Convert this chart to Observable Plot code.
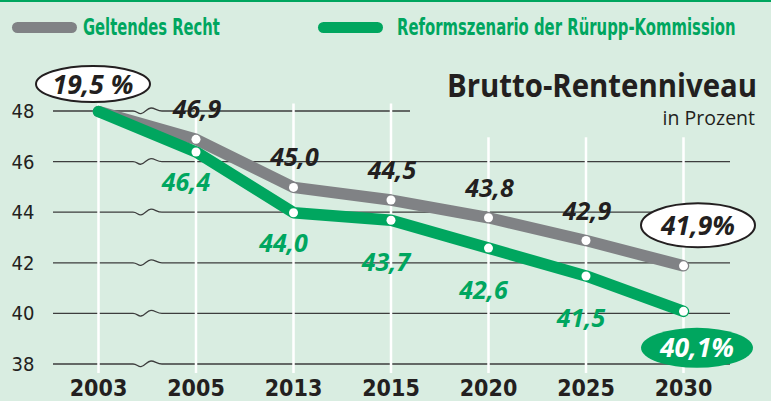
<!DOCTYPE html>
<html><head><meta charset="utf-8">
<script src="https://cdn.jsdelivr.net/npm/d3@7"></script>
<script src="https://cdn.jsdelivr.net/npm/@observablehq/plot@0.6"></script>
<style>
html,body{margin:0;padding:0;background:#d9ede1;width:771px;height:401px;overflow:hidden}
svg{display:block}
</style></head><body>
<svg id="legend" width="771" height="50"></svg>
<div id="chart"></div>
<script>
// ---- data ----
const years = ["2003", "2005", "2013", "2015", "2020", "2025", "2030"];
const geltend = [48.0, 46.9, 45.0, 44.5, 43.8, 42.9, 41.9];
const reform = [48.0, 46.4, 44.0, 43.7, 42.6, 41.5, 40.1];
const yTicks = [38, 40, 42, 44, 46, 48];
const seriesNames = ["Geltendes Recht", "Reformszenario der Rürupp-Kommission"];
const titleText = "Brutto-Rentenniveau";
const subtitleText = "in Prozent";
const startNote = "19,5 %";
const endNotes = ["41,9%", "40,1%"];

// ---- styles ----
const GREEN = "#00a65f", GRAY = "#808285", DARK = "#231f20", BG = "#d9ede1";
const NARROW = "'Liberation Sans Narrow', 'DejaVu Sans Condensed', 'Roboto', sans-serif";
const LABEL = "'Open Sans', 'Lato', sans-serif";
const fmt = v => v.toFixed(1).replace(".", ",");

const rows = years.map((year, i) => ({i, year, g: geltend[i], r: reform[i]}));

// ---- legend (above the plot) ----
const leg = d3.select("#legend");
leg.append("rect").attr("x", 0).attr("y", 0).attr("width", 771).attr("height", 2).attr("fill", GREEN);
[[12, 83, 137, GRAY], [318, 397, 339, GREEN]].forEach(([sx, tx, tw, col], k) => {
  leg.append("rect").attr("x", sx).attr("y", 22).attr("width", 65).attr("height", 11)
    .attr("rx", 5.5).attr("fill", col);
  const t = leg.append("text").attr("x", 0).attr("y", 0).text(seriesNames[k])
    .attr("fill", GREEN).attr("font-family", NARROW).attr("font-weight", "bold")
    .attr("font-size", 23.5);
  const len = t.node().getComputedTextLength() || tw;
  t.attr("transform", `translate(${tx},35) scale(${(tw / len).toFixed(4)},1)`);
});

// ---- custom marks ----
function gridMark(index, {x, y}) {
  const g = d3.create("svg:g");
  const x0 = x(0), left = x0 - 45, right = x(6) + 47;
  for (const t of yTicks) {
    const py = y(t);
    const a = x0 + 35;
    const d = `M${left},${py}H${a}C${a+4},${py} ${a+5},${py+3} ${a+8},${py+2.6}` +
      `C${a+12},${py+2} ${a+14},${py-3} ${a+18},${py-3}C${a+22},${py-3} ${a+24},${py} ${a+29},${py}H${right}`;
    g.append("path").attr("d", d).attr("fill", "none").attr("stroke", "#3d3d3d").attr("stroke-width", 1.3);
  }
  return g.node();
}
function maskMark(index, {x, y}, values, {width}) {
  return d3.create("svg:rect").attr("x", x(3.2)).attr("y", 0)
    .attr("width", width - x(3.2)).attr("height", y(47) + 1).attr("fill", BG).node();
}
function notesMark(index, {x, y}, values, {width}) {
  const g = d3.create("svg:g");
  const specs = [
    {i: 0, v: geltend[0], t: startNote, dx: -5, dy: -27, rx: 57, ry: 18, fill: "#fff", stroke: DARK, color: DARK},
    {i: 6, v: geltend[6], t: endNotes[0], dx: 15, dy: -40, rx: 57, ry: 22, fill: "#fff", stroke: DARK, color: DARK},
    {i: 6, v: reform[6], t: endNotes[1], dx: 14, dy: 37, rx: 56, ry: 20, fill: GREEN, stroke: "none", color: "#fff"}
  ];
  for (const s of specs) {
    const cx = x(s.i) + s.dx, cy = y(s.v) + s.dy;
    g.append("ellipse").attr("cx", cx).attr("cy", cy).attr("rx", s.rx).attr("ry", s.ry)
      .attr("fill", s.fill).attr("stroke", s.stroke).attr("stroke-width", 2);
    g.append("text").attr("x", cx).attr("y", cy).attr("dy", "0.36em").attr("text-anchor", "middle")
      .attr("font-family", LABEL).attr("font-weight", "bold").attr("font-style", "italic")
      .attr("font-size", 26.5).attr("fill", s.color).text(s.t);
  }
  return g.node();
}
function titleMark(index, scales, values, {width}) {
  const g = d3.create("svg:g");
  const t = g.append("text").attr("x", 0).attr("y", 0).attr("text-anchor", "end")
    .attr("font-family", LABEL).attr("font-weight", "bold").attr("font-size", 33).attr("fill", DARK)
    .text(titleText);
  g.append("text").attr("x", width - 16).attr("y", 75).attr("text-anchor", "end")
    .attr("font-family", LABEL).attr("font-size", 19.5).attr("fill", DARK).text(subtitleText);
  // condense title to the reference width once it is in the document
  requestAnimationFrame(() => {
    const len = t.node().getComputedTextLength();
    const s = len > 0 ? Math.min(1, 310 / len) : 0.92;
    t.attr("transform", `translate(${width - 14},47) scale(${s.toFixed(4)},1)`);
  });
  t.attr("transform", `translate(${width - 14},47) scale(0.92,1)`);
  return g.node();
}

const labelStyle = {fontFamily: LABEL, fontWeight: "bold", fontStyle: "italic", fontSize: 25};

const chart = Plot.plot({
  width: 771,
  height: 351,
  marginTop: 61,
  marginBottom: 37,
  marginLeft: 98,
  marginRight: 88,
  x: {domain: [0, 6]},
  y: {domain: [38, 48]},
  style: {background: "transparent", overflow: "visible", fontFamily: NARROW, color: DARK},
  marks: [
    gridMark,
    Plot.ruleX(rows, {x: "i", y1: 48.3, y2: 37.64, stroke: "white", strokeWidth: 2.5}),
    maskMark,
    Plot.line(rows, {x: "i", y: "g", stroke: GRAY, strokeWidth: 11.5, strokeLinejoin: "round", strokeLinecap: "round"}),
    Plot.line(rows, {x: "i", y: "r", stroke: GREEN, strokeWidth: 11.5, strokeLinejoin: "round", strokeLinecap: "round"}),
    Plot.dot(rows.slice(1), {x: "i", y: "g", r: 4.5, fill: "white"}),
    Plot.dot(rows.slice(1), {x: "i", y: "r", r: 4.5, fill: "white"}),
    Plot.text(rows.slice(1, 6), {x: "i", y: "g", text: d => fmt(d.g), dx: 1, dy: -29, fill: DARK, ...labelStyle}),
    Plot.text(rows.slice(1, 3), {x: "i", y: "r", text: d => fmt(d.r), dx: -10, dy: 31, fill: GREEN, ...labelStyle}),
    Plot.text(rows.slice(3, 6), {x: "i", y: "r", text: d => fmt(d.r), dx: -5, dy: 43, fill: GREEN, ...labelStyle}),
    notesMark,
    titleMark,
    Plot.axisY(yTicks, {tickSize: 0, tickPadding: 64, fontSize: 20, label: null}),
    Plot.axisX(rows.map(d => d.i), {tickFormat: i => years[i], tickSize: 0, tickPadding: 15,
      fontSize: 23, fontWeight: "bold", label: null})
  ]
});
document.getElementById("chart").appendChild(chart);
</script>
</body></html>
